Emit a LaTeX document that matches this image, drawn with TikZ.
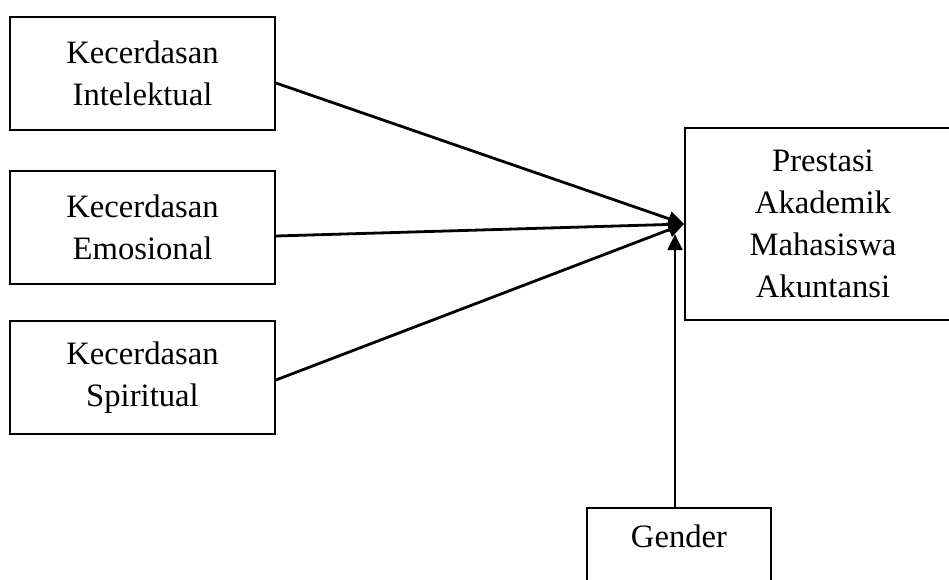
\documentclass[tikz,border=0pt]{standalone}
\usepackage{fontspec}
\setmainfont{Liberation Serif}
\usetikzlibrary{arrows.meta,calc}
\begin{document}
\begin{tikzpicture}[x=0.75pt,y=-0.75pt,
  box/.style={draw, line width=1.3pt, align=center, inner sep=0pt,
    font=\fontsize{24.5}{31.5}\selectfont},
  conn/.style={line width=2.1pt, -{Triangle[length=12pt,width=11pt]}}]
\clip (0,0) rectangle (949,579);
\fill[white] (0,0) rectangle (949,579);
\node[box, minimum width=198.75pt, minimum height=84.75pt] (ki) at (142.5,73.5) {Kecerdasan\\Intelektual};
\node[box, minimum width=198.75pt, minimum height=84.75pt] (ke) at (142.5,227.5) {Kecerdasan\\Emosional};
\node[box, minimum width=198.75pt, minimum height=84.75pt] (ks) at (142.5,377.5) {Kecerdasan\\Spiritual};
\node[box, minimum width=207pt, minimum height=144pt] (pam) at (823,224) {Prestasi\\Akademik\\Mahasiswa\\Akuntansi};
\node[box, anchor=north, minimum width=138pt, text height=30pt, text depth=60pt] (gen) at (679,507) {Gender};
\coordinate (gtip) at (675,234);
\draw[conn] ($(ki.east)+(0,9.5)$) -- (pam.west);
\draw[conn] ($(ke.east)+(0,8.5)$) -- (pam.west);
\draw[conn] ($(ks.east)+(0,2.5)$) -- (pam.west);
\draw[conn] ($(gen.north)+(-4,0)$) -- (gtip);
\end{tikzpicture}
\end{document}
